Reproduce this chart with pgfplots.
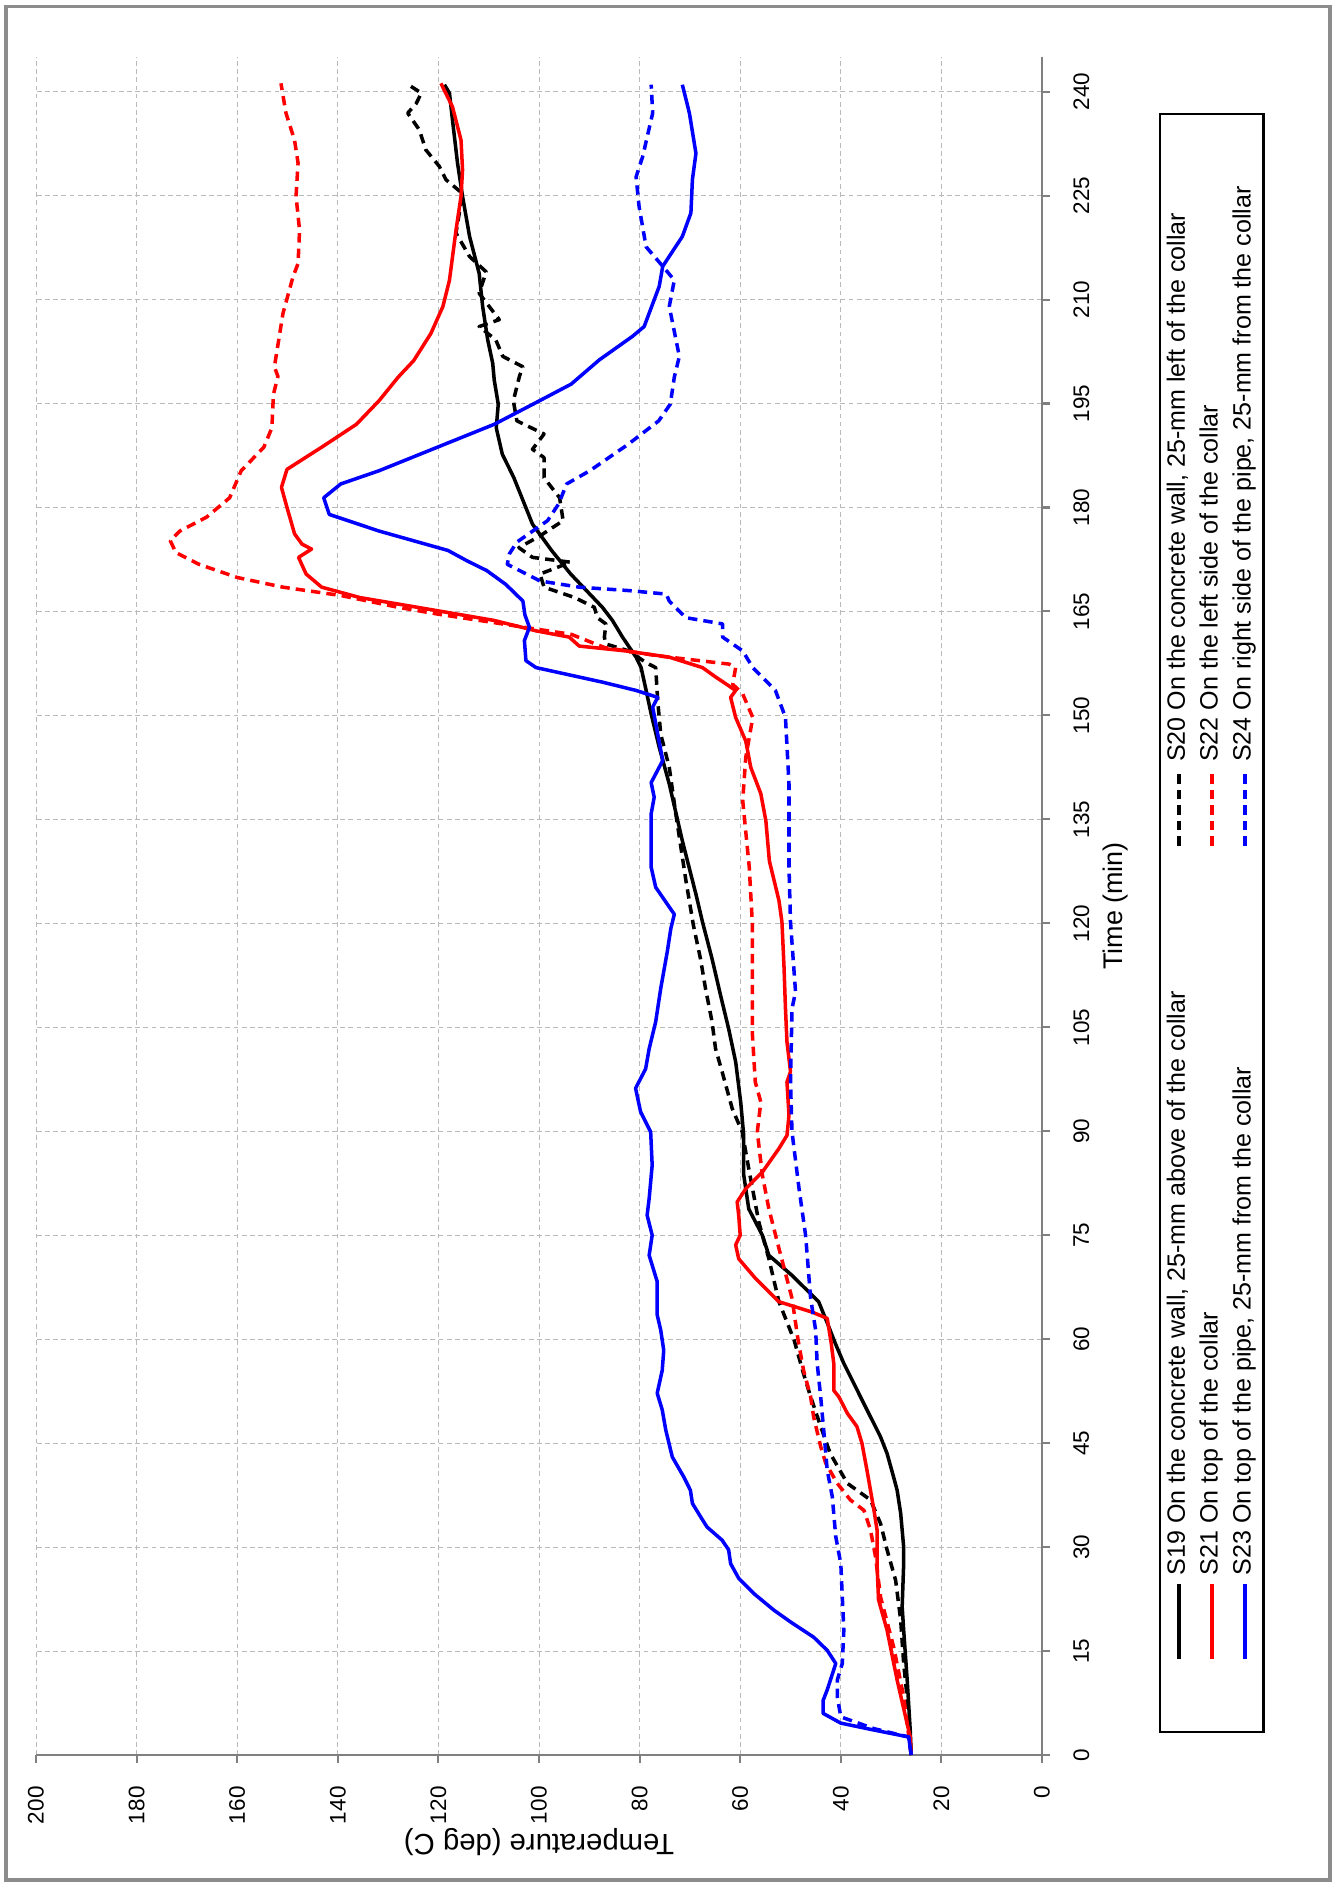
\documentclass[border=0pt]{standalone}
\usepackage{pgfplots}
\pgfplotsset{compat=1.18}
\usepackage{fontspec}
\setmainfont{Liberation Sans}
\usepackage{graphicx}
\definecolor{axisgray}{RGB}{128,128,128}
\definecolor{gridgray}{RGB}{185,185,185}
\definecolor{framegray}{RGB}{140,140,140}
\definecolor{cred}{RGB}{255,0,0}
\definecolor{cblue}{RGB}{0,0,255}
\pgfplotsset{
  solidln/.style={line width=1.5pt,line join=round},
  dashln/.style={line width=1.5pt,line join=round,dash pattern=on 4pt off 2.6pt},
}
\begin{document}
\rotatebox{90}{%
\begin{tikzpicture}
\begin{axis}[
  scale only axis,width=25.47cm,height=15.09cm,
  xmin=0,xmax=245,ymin=0,ymax=200,
  xtick={0,15,...,240},ytick={0,20,...,200},
  axis x line*=bottom,axis y line*=left,
  axis line style={draw=axisgray,line width=0.9pt},
  tick style={draw=axisgray,line width=0.9pt},
  tick align=outside,major tick length=0.12cm,
  grid=major,major grid style={draw=gridgray,line width=0.4pt,dash pattern=on 2pt off 1.5pt},
  /pgf/number format/assume math mode=true,
  ticklabel style={font=\fontsize{9.6}{11}\selectfont,inner sep=0pt},
  xticklabel style={anchor=north,yshift=-0.345cm},
  yticklabel style={anchor=east,xshift=-0.345cm},
  xlabel={Time (min)},ylabel={Temperature (deg C)},
  xlabel style={font=\fontsize{11.5}{13}\selectfont,at={(axis description cs:0.5,0)},anchor=center,yshift=-1.11cm},
  ylabel style={font=\fontsize{12.5}{14}\selectfont,at={([xshift=-1.305cm]axis description cs:0,0.5)},anchor=center},
  legend columns=2,legend cell align=left,
  legend image code/.code={\draw[#1] (0cm,0cm) -- (1.125cm,0cm);},
  legend style={at={(0,0)},anchor=north west,xshift=0.33cm,yshift=-1.755cm,
    draw=black,line width=1pt,inner xsep=1.065cm,inner ysep=0.105cm,
    column sep=0.105cm,row sep=0.1425cm,
    nodes={inner sep=0pt,text height=0.75em,text depth=0.25em,font=\fontsize{10.7}{13}\selectfont}},
]
% S19
\addplot[solidln,black] coordinates {(0,26) (3.6,26.2) (10.8,26.8) (18,27.5) (21.4,27.8) (27.6,27.5) (30,27.5) (34.9,28.1) (38.2,28.8) (40.1,29.5) (43.5,30.8) (45.9,32.1) (48.8,34.1) (51.7,36.1) (53.6,37.4) (56.5,39.4) (59.4,41.1) (62,42.5) (65.4,44.4) (69.2,49.7) (72.1,54.3) (75,55.6) (78.8,58.3) (83.7,59.3) (89.4,59.3) (94.2,59.9) (100,60.9) (104.8,62.3) (109.6,63.9) (114.9,65.6) (120.2,67.5) (124.2,68.8) (131.9,71.5) (140.1,74.1) (145.4,76.1) (150.2,77.7) (153.6,78.7) (156.9,79.7) (158.4,80.7) (161.3,83.4) (163.7,85.4) (165.6,87.4) (167.5,89.9) (170.4,93.7) (173.8,97.5) (177.6,101.3) (180.5,102.9) (184.3,105) (187.7,107.3) (191.5,108.5) (194.9,108.1) (198.4,108.9) (200.8,109.2) (204.2,110.2) (209,111.2) (213.8,111.9) (219.1,113.8) (224.9,115.2) (229.7,116.2) (235.9,117.2) (239.8,117.8) (241,118.8)};
\addlegendentry{\makebox[10.815cm][l]{S19 On the concrete wall, 25-mm above of the collar}}
% S20
\addplot[dashln,black] coordinates {(0,26) (6,26.5) (13.2,27.5) (19.5,28.1) (25.2,29.1) (29.6,30.8) (33.4,32.1) (36.8,34.1) (39.2,38.7) (43.5,42.1) (47.4,44) (51.7,46) (55,47.4) (59.9,49.3) (65.4,52.3) (71.6,54.3) (76.9,56.3) (84.6,58.3) (89.9,59.6) (93.3,61.6) (98.6,63.6) (101.9,64.9) (105.8,65.6) (110.6,66.9) (114.9,67.9) (119.7,69.3) (126.2,70.8) (135.8,72.8) (142.5,74.1) (147.3,75.8) (152.1,76.4) (156.9,76.8) (157.6,78.7) (159.3,82.1) (160.3,86.7) (161.3,87) (163.2,86.7) (164.1,88.4) (165.6,89) (167,92.9) (168.5,99) (170.4,99.8) (172.1,93.7) (172.8,101.3) (174.2,104) (175.9,99.8) (178.1,95.2) (181.4,95.9) (184.3,99) (187.2,99) (188.4,101.3) (190.6,99) (192.5,104.4) (195.4,105.1) (198.9,103.9) (200.3,103.2) (201.8,107.2) (204.2,108.6) (206.1,111.9) (207.1,107.9) (210.9,111.9) (214,110.5) (216.2,113.8) (219.6,116.5) (225.3,115.2) (227.3,118.5) (229.2,119.8) (231.6,122.5) (234.5,123.8) (236.9,126.1) (238.3,124.4) (239.8,123.4) (241.2,126.4)};
\addlegendentry{\makebox[8.65cm][l]{S20 On the concrete wall, 25-mm left of the collar}}
% S21
\addplot[solidln,cred] coordinates {(0,26) (2.6,26.2) (10.8,28.8) (18,30.8) (22.4,32.5) (27.6,32.8) (32.5,32.8) (35.3,33.4) (38.2,34.1) (41.1,34.8) (45,35.8) (47.4,36.8) (49.3,38.7) (51.7,40.4) (52.6,41.4) (56.5,41.4) (59.4,41.9) (63,42.7) (63.9,45.7) (65.4,52.3) (68.8,57) (71.6,60.3) (73.6,60.9) (75,60) (77.9,60.3) (79.8,60.6) (81.7,58.9) (84.1,55.6) (87.5,52.3) (89.4,50.7) (92.3,50.3) (97.1,50.7) (98.6,50) (102.9,50.7) (107.7,51) (113.9,51.3) (120.2,51.7) (123.3,52.3) (129,54.2) (134.8,54.9) (138.7,55.9) (142.5,57.9) (146.3,58.9) (149.7,60.9) (152.6,61.9) (153.6,60.9) (155.5,64.8) (156.9,67.5) (158.4,74.1) (159.3,82.7) (160,92) (161.3,94) (162.2,100.6) (163.7,108.9) (165.6,124.2) (167,135.6) (168.5,143.2) (170.4,146.3) (172.8,147.8) (174,145.2) (174.7,147.1) (176.2,148.6) (180,150.1) (182.9,151.2) (185.5,150.1) (188.7,143.2) (192,136.3) (195.4,131.8) (198.8,128) (201.2,124.9) (205.1,121.5) (209,119.1) (212.8,117.8) (220,116.5) (224.9,115.5) (228.7,115.2) (233,115.5) (237.8,117.2) (241.2,119.5)};
\addlegendentry{\makebox[10.815cm][l]{S21 On top of  the collar}}
% S22
\addplot[dashln,cred] coordinates {(0,26) (8.4,27.5) (15.6,29.5) (22.8,32.1) (28.6,33.1) (32.5,34.1) (35.3,35.4) (36.8,38.1) (39.2,40.7) (42.1,43) (44.5,44) (48.8,45.4) (51.7,46) (55.5,47.4) (59.9,48.5) (65.9,49.7) (73.1,52.3) (78.8,54.3) (83.7,55.6) (89.9,56.6) (94.2,55.9) (97.1,57) (104.3,57.6) (111.5,57.6) (120.2,57.6) (128.1,58.2) (137.7,59.5) (143.9,58.9) (149.7,57.5) (153.1,59.5) (154.5,61.5) (156.9,60.9) (157.4,62.2) (158.6,76.4) (159.8,87) (161.7,93.6) (162.5,101) (163.5,110) (164.6,120) (165.6,128) (167.3,139.4) (168.5,150.9) (169.9,160) (171.8,167.6) (173.5,172.2) (175.2,173.3) (176.6,171.4) (178.6,166.1) (181.4,161.5) (185.3,159.2) (188.7,154.7) (191.5,153.1) (196.3,152.8) (198.9,151.9) (200.3,152.6) (208,150.9) (213.3,148.9) (215.2,147.9) (220,147.6) (224.9,148.3) (229.7,147.9) (233,148.6) (236.9,150.3) (241.2,151.3)};
\addlegendentry{\makebox[8.65cm][l]{S22 On the left side of the collar}}
% S23
\addplot[solidln,cblue] coordinates {(0,26) (2.6,26.5) (3.6,33.4) (4.6,40) (6,43.5) (7.9,43.5) (9.4,42.7) (12.3,41.4) (13.2,41) (15.1,42.7) (17,45.4) (19.2,50) (20.9,53.3) (23.3,57.3) (25.5,60.3) (27.6,61.9) (29.6,62.3) (31,63.6) (32.9,66.6) (34.4,67.9) (36.3,69.5) (38.2,69.9) (40.1,71.2) (43,73.5) (46.9,74.8) (49.8,75.5) (52.2,76.5) (55.5,75.5) (58.4,75.2) (61.3,75.8) (63.5,76.5) (68.3,76.5) (72.1,78.1) (75,77.5) (77.9,78.5) (80.3,78.1) (85.1,77.5) (89.9,77.8) (92.8,79.8) (96.2,80.8) (99,78.8) (101.9,78.1) (105.8,76.8) (110.6,75.8) (115.9,74.5) (119.2,73.8) (121.3,73.1) (125.2,76.8) (128.1,77.7) (132.9,77.7) (135.8,77.7) (138.2,77.1) (140.3,77.7) (143.5,75.4) (147.3,76.4) (151.2,77.4) (152.6,76.4) (153.6,80.7) (154.8,87.4) (156.9,100.6) (157.9,102.6) (160.8,102.9) (162.7,101.9) (164.5,102.8) (166.5,103.2) (168.9,106.6) (170.9,110.4) (172.3,114.3) (173.8,118.1) (176.6,131.8) (179,141.7) (181.4,142.8) (183.4,139.4) (185.3,131.8) (188.9,119.5) (192,108.9) (194.9,101.2) (197.8,93.6) (201.3,88) (204.7,81.4) (206.1,79.1) (211.9,76.1) (214.8,75.4) (219.1,71.5) (222.5,69.8) (227.3,69.5) (231.1,68.8) (236.9,70.1) (241,71.5)};
\addlegendentry{\makebox[10.815cm][l]{S23 On top of the pipe,  25-mm from the collar}}
% S24
\addplot[dashln,cblue] coordinates {(0,26) (2.6,26.5) (3.8,33.4) (5.5,40) (8.4,40.7) (10.8,40.7) (13.2,39.7) (18,39.4) (22.8,39.7) (27.6,40) (31.5,41) (37.3,41.7) (41.1,42.7) (46.9,43.4) (51.7,44) (56.5,44.7) (61.3,45) (65.9,46) (75,47) (81.7,48.3) (89.9,49.7) (97.1,50) (107.7,49.7) (110.1,49) (120.2,50) (128.1,50.3) (140.1,50.3) (149.7,51) (153.6,53) (156.9,57.5) (159.3,59.5) (161.3,63.5) (163.2,63.5) (164.1,70.8) (166.5,74.1) (167.5,74.7) (168,82) (168.5,92) (169.4,99.8) (171.8,106.3) (173.3,105.9) (175,104.4) (178.1,98.3) (180.5,96.1) (183.4,94.5) (185.3,89.9) (189.1,82.3) (192.5,76.2) (194.9,73.9) (198.8,73.1) (201.8,72.1) (209,74.1) (212.8,73.1) (214.8,75.4) (217.6,78.7) (223.4,80.1) (227.7,80.7) (230.6,79.4) (236.9,77.4) (241,77.7)};
\addlegendentry{\makebox[8.65cm][l]{S24 On right side of the pipe, 25-mm from the collar}}
\end{axis}
\draw[framegray,line width=1.3pt] (-1.875,-4.32) rectangle (26.22,15.54);
\path (-1.995,-4.485) rectangle (26.325,15.63);
\end{tikzpicture}}
\end{document}
